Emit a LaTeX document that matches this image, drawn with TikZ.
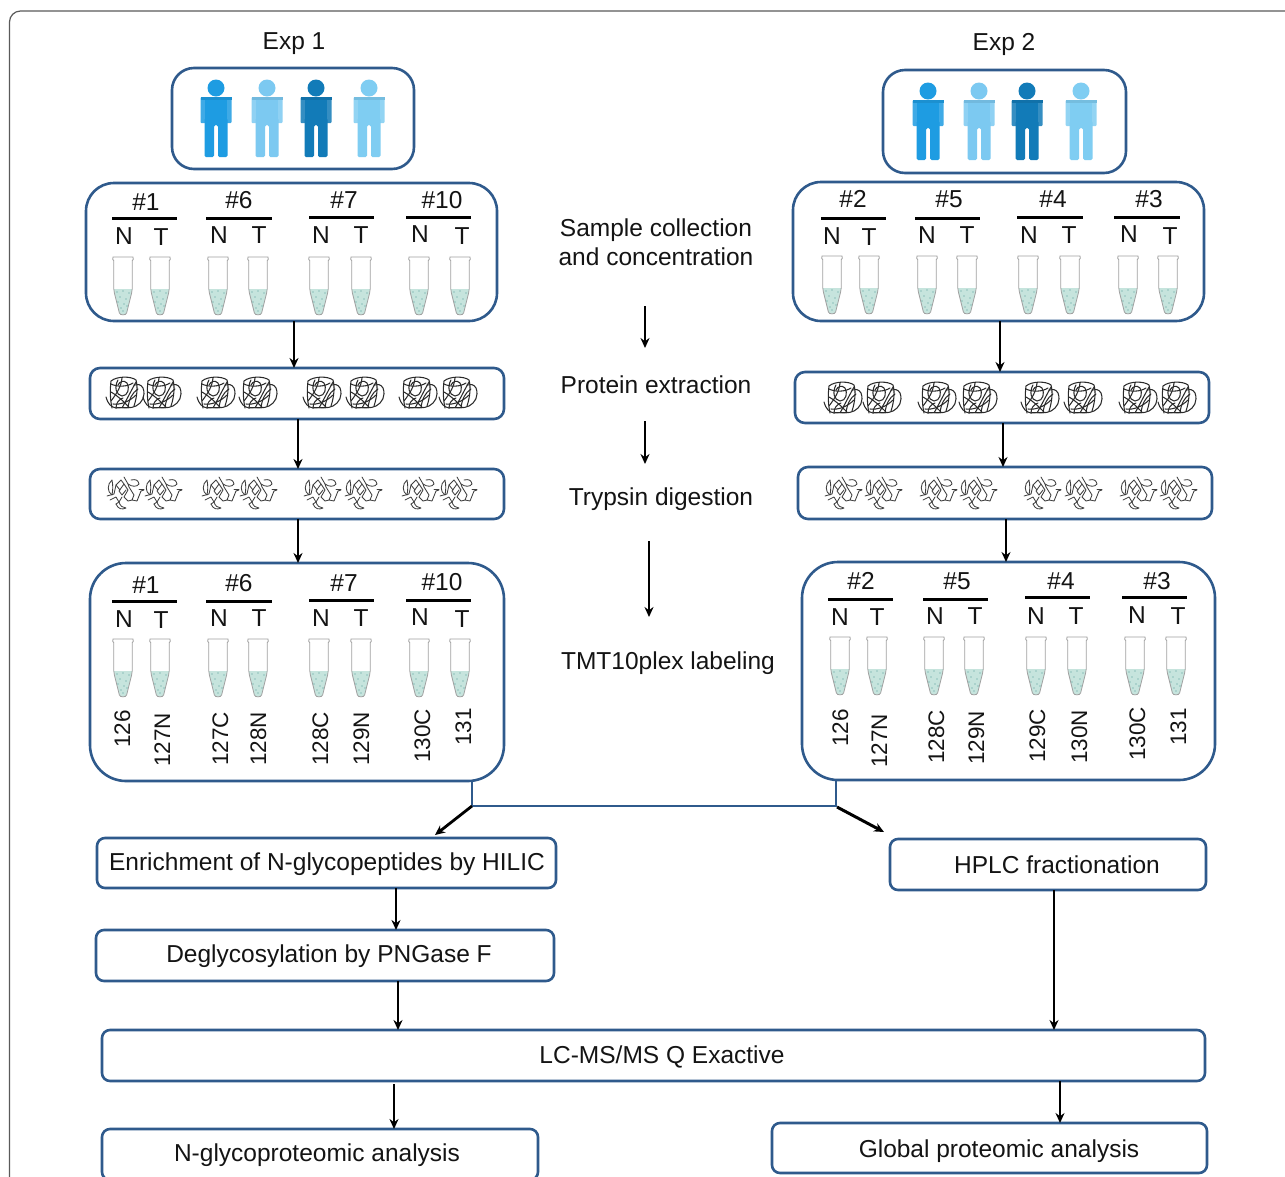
\documentclass[tikz,border=0pt]{standalone}
\usepackage{fontspec}
\setmainfont{Liberation Sans}
\usetikzlibrary{arrows.meta,calc}
\definecolor{boxblue}{HTML}{2F5A8C}
\definecolor{liq}{HTML}{C6E4DD}
\definecolor{liqdot}{HTML}{4F9A96}
\definecolor{tubeline}{HTML}{A0A0A0}
\definecolor{pa}{HTML}{1E9CE2}
\definecolor{pb}{HTML}{7CC9F1}
\definecolor{pc}{HTML}{127BB8}
\definecolor{pd}{HTML}{7FCDF2}
\definecolor{tangleink}{HTML}{2A2A2A}
\definecolor{frameline}{HTML}{5A5A5A}
\tikzset{
  boxshape/.style={draw=boxblue,line width=2.6pt,fill=white,inner sep=0pt,outer sep=0pt},
  arr/.style={-{Stealth[length=10pt,width=9pt]},line width=2.6pt,black},
  conn/.style={draw=boxblue,line width=2.6pt,line join=miter},
  lbl/.style={inner sep=0pt,text height=17.5pt,text depth=0pt,text=black!92},
  numlbl/.style={inner sep=0pt,text height=16pt,text depth=0pt,text=black!92,rotate=90,font=\fontsize{22.5}{22.5}\selectfont},
  bar/.style={line width=3pt,black},
  tg/.style={draw=tangleink,line width=1.05pt,line cap=round},
  tgd/.style={draw=tangleink!90,line width=.85pt,line cap=round,line join=round},
}
\newcommand\mybox[6]{%
  \pgfmathsetmacro\bw{#5-#3}\pgfmathsetmacro\bh{#6-#4}%
  \pgfmathsetmacro\bx{(#5+#3)/2}\pgfmathsetmacro\by{(#6+#4)/2}%
  \node[boxshape,rounded corners=#1pt,minimum width=\bw pt,minimum height=\bh pt] (#2) at (\bx,\by) {};}
\newcommand\txt[5]{\node[lbl,font=\fontsize{#1}{#1}\selectfont] (#2) at (#3,#4) {#5};}
\newcommand\vconn[4][]{\coordinate (vx) at (#4,0);\draw[arr,#1] (#2.south -| vx) -- (#3.north -| vx);}
\newcommand\person[3]{\begin{scope}[shift={(#1,#2)}]
  \fill[#3] (0,0) circle (8.5);
  \fill[#3,opacity=.85,rounded corners=1pt] (-15.5,9) rectangle (15.5,35);
  \fill[#3] (-11,9) rectangle (11,37);
  \fill[#3!92!black] (-15.5,9) rectangle (15.5,12);
  \fill[#3,rounded corners=1.5pt] (-11.5,30) -- (-11.5,69) -- (-2,69) -- (-2,37) -- (2,37) -- (2,69) -- (11.5,69) -- (11.5,30) -- cycle;
\end{scope}}
\newcommand\tube[2]{\begin{scope}[shift={(#1,#2)}]
  \fill[liq] (-9,32) -- (-8.6,36) -- (-3.6,56) .. controls (-3,58.5) and (3,58.5) .. (3.6,56) -- (8.6,36) -- (9,32) -- cycle;
  \draw[tubeline,line width=.8pt] (-10,0) -- (10,0) -- (10.3,2.5) -- (9.2,3.5) -- (9.2,32) -- (8.6,36) -- (3.6,56) .. controls (3,58.5) and (-3,58.5) .. (-3.6,56) -- (-8.6,36) -- (-9.2,32) -- (-9.2,3.5) -- (-10.3,2.5) -- cycle;
  \foreach \px/\py in {-6/35,0/34,6/36,-3/40,3/42,-5/45,1/47,4/49,-2/51,0/54}
    \fill[liqdot] (\px,\py) circle (.6);
\end{scope}}
\newcommand\tangle[2]{\begin{scope}[shift={(#1,#2)}]
  % tail and outer square loop
  \draw[tg] (-19,4) .. controls (-17,11) and (-14,14) .. (-9,15) .. controls (-3,14) and (6,16) .. (11,13) .. controls (17,10) and (21,3) .. (18,-5) .. controls (16,-9) and (12,-9) .. (9,-8);
  \draw[tg] (-13,15) .. controls (-15,6) and (-15,-4) .. (-14,-12) .. controls (-8,-17) and (6,-17) .. (11,-13) .. controls (13,-6) and (12,4) .. (9,13);
  % inner loops
  \draw[tg] (-14,-9) .. controls (-8,-6) and (2,-6) .. (8,-10);
  \draw[tg] (-7,-13) .. controls (-11,-6) and (-9,2) .. (-3,3) .. controls (3,3) and (5,-5) .. (2,-10) .. controls (-1,-13) and (-5,-12) .. (-7,-8);
  % diagonals
  \draw[tg] (11,-11) .. controls (6,-2) and (2,6) .. (-3,15);
  \draw[tg] (13,-4) .. controls (7,0) and (4,6) .. (3,15);
  \draw[tg] (-14,-1) .. controls (-7,3) and (-2,8) .. (4,14);
  \draw[tg] (-14,8) .. controls (-8,0) and (-4,-6) .. (-3,-15);
  \draw[tg] (-12,11) .. controls (-5,12) and (4,9) .. (11,2);
  \draw[tg] (-9,15) .. controls (-9,10) and (-6,6) .. (-2,5);
  \draw[tg,line width=1.5pt] (-8,14.5) -- (6,14.5);
\end{scope}}
\newcommand\digest[2]{\begin{scope}[shift={(#1,#2)}]
  \draw[tgd] (-13,-13) .. controls (-18,-9) and (-18,-1) .. (-13,2) .. controls (-12,-3) and (-12,-8) .. (-13,-13);
  \draw[tgd] (-18,3) -- (-11,1) -- (-9,-8) -- (-4,-13) -- (-1,-9) -- (-6,-2) -- (-3,2) -- (1,-3);
  \draw[tgd] (-9,-8) -- (-5,-3);
  \draw[tgd] (-1,-16) -- (3,-9) -- (4,-6) -- (9,2) -- (7,7) -- (12,8) -- (16,-2) -- (19,-3);
  \draw[tgd] (3,-9) .. controls (7,-6) and (12,-6) .. (14,-9) .. controls (13,-13) and (11,-14) .. (6,-13);
  \draw[tgd] (-1,-9) -- (3,-3) -- (-1,4) -- (3,8) -- (7,7);
  \draw[tgd] (14,-4) -- (19,-4);
  \draw[tgd] (-15,7) -- (-9,4) -- (-6,9) -- (-9,11);
  \draw[tgd] (-9,11) .. controls (-7,16) and (-3,17) .. (1,15) .. controls (-2,15) and (-5,13) .. (-6,9);
  \draw[tgd] (-6,9) -- (-3,4);
\end{scope}}
\begin{document}
\begin{tikzpicture}[x=1pt,y=-1pt]
\useasboundingbox (0,0) rectangle (1285,1176);
\fill[white] (0,0) rectangle (1285,1176);
\clip (0,0) rectangle (1285,1176);
\draw[frameline,line width=1.2pt,rounded corners=11pt] (9.5,1190) -- (9.5,11) -- (1300,11);

% titles
\txt{24.5}{exp1}{294}{41}{Exp 1}
\txt{24.5}{exp2}{1004}{42}{Exp 2}

% Exp 1 boxes
\mybox{22}{pp1}{172}{68}{414}{169}
\mybox{28}{sm1}{86}{183}{497}{321}
\mybox{10}{pr1}{90}{368}{504}{419}
\mybox{10}{tr1}{90}{469}{504}{519}
\mybox{36}{tm1}{90}{563}{504}{781}
% Exp 2 boxes
\mybox{22}{pp2}{883}{70}{1126}{173}
\mybox{28}{sm2}{793}{182}{1204}{321}
\mybox{10}{pr2}{795}{372}{1209}{423}
\mybox{10}{tr2}{798}{467}{1212}{519}
\mybox{36}{tm2}{802}{562}{1215}{780}
% process boxes
\mybox{8}{enr}{97}{838}{556}{888}
\mybox{8}{deg}{96}{930}{554}{981}
\mybox{8}{lcm}{102}{1030}{1205}{1081}
\mybox{8}{ngl}{102}{1129}{538}{1180}
\mybox{8}{hpl}{890}{839}{1206}{890}
\mybox{8}{glb}{772}{1123}{1207}{1173}

% people
\person{216}{88}{pa}\person{267}{88}{pb}\person{316}{88}{pc}\person{369}{88}{pd}
\person{928}{91}{pa}\person{979}{91}{pb}\person{1027}{91}{pc}\person{1081}{91}{pd}

% sample groups, Exp 1
\foreach \n/\x/\y [count=\i] in {\#1/146/202,\#6/239/200,\#7/344/200,\#10/442/200}
  {\txt{24.5}{sa\i}{\x}{\y}{\n}}
\foreach \a/\b/\y in {112/177/218,206/272/218,309/374/217,406/471/217} \draw[bar] (\a,\y) -- (\b,\y);
\foreach \n/\x/\y [count=\i] in {N/124/236,T/161/237,N/219/235,T/259/235,N/321/235,T/361/235,N/420/234,T/462/236}
  {\txt{24.5}{sb\i}{\x}{\y}{\n}}
\foreach \x in {123,160,218,258,319,361,419,460} \tube{\x}{257};

% sample groups, Exp 2
\foreach \n/\x/\y [count=\i] in {\#2/853/199,\#5/949/199,\#4/1053/199,\#3/1149/199}
  {\txt{24.5}{sc\i}{\x}{\y}{\n}}
\foreach \a/\b/\y in {821/886/218,915/980/218,1017/1083/217,1114/1180/217} \draw[bar] (\a,\y) -- (\b,\y);
\foreach \n/\x/\y [count=\i] in {N/832/236,T/869/237,N/927/235,T/967/235,N/1029/235,T/1069/235,N/1129/234,T/1170/236}
  {\txt{24.5}{sd\i}{\x}{\y}{\n}}
\foreach \x in {832,869,927,967,1028,1070,1128,1168} \tube{\x}{256};

% tangles
\foreach \x in {125,162,216,258,322,365,418,458} \tangle{\x}{393};
\foreach \x in {843,882,937,978,1040,1083,1138,1177} \tangle{\x}{398};
\foreach \x in {125,163,220,258,322,363,420,458} \digest{\x}{493};
\foreach \x in {843,883,938,978,1042,1083,1138,1178} \digest{\x}{493};

% TMT, Exp 1
\foreach \n/\x/\y [count=\i] in {\#1/146/585,\#6/239/583,\#7/344/583,\#10/442/582}
  {\txt{24.5}{ta\i}{\x}{\y}{\n}}
\foreach \a/\b/\y in {112/177/601,206/272/601,309/374/600,406/471/600} \draw[bar] (\a,\y) -- (\b,\y);
\foreach \n/\x/\y [count=\i] in {N/124/619,T/161/620,N/219/618,T/259/618,N/321/618,T/361/618,N/420/617,T/462/619}
  {\txt{24.5}{tb\i}{\x}{\y}{\n}}
\foreach \x in {123,160,218,258,319,361,419,460} \tube{\x}{639};
\foreach \n/\x/\y [count=\i] in {126/122/729,127N/162/740,127C/220/739,128N/258/739,128C/320/739,129N/361/739,130C/422/736,131/463/727}
  {\node[numlbl] (tc\i) at (\x,\y) {\n};}

% TMT, Exp 2
\foreach \n/\x/\y [count=\i] in {\#2/861/581,\#5/957/581,\#4/1061/581,\#3/1157/581}
  {\txt{24.5}{ud\i}{\x}{\y}{\n}}
\foreach \a/\b/\y in {828/893/599,923/988/599,1025/1090/597,1122/1187/597} \draw[bar] (\a,\y) -- (\b,\y);
\foreach \n/\x/\y [count=\i] in {N/840/617,T/877/617,N/935/616,T/975/616,N/1036/616,T/1076/616,N/1137/615,T/1178/616}
  {\txt{24.5}{ue\i}{\x}{\y}{\n}}
\foreach \x in {840,877,934,974,1036,1077,1135,1176} \tube{\x}{637};
\foreach \n/\x/\y [count=\i] in {126/840/728,127N/879/741,128C/936/737,129N/976/738,129C/1037/736,130N/1079/737,130C/1137/734,131/1178/727}
  {\node[numlbl] (uf\i) at (\x,\y) {\n};}

% centre labels
\txt{24.5}{st1}{656}{228}{Sample collection}
\txt{24.5}{st2}{656}{257}{and concentration}
\txt{24.5}{st3}{656}{385}{Protein extraction}
\txt{24.5}{st4}{661}{497}{Trypsin digestion}
\txt{24.5}{st5}{668}{661}{TMT10plex labeling}

% process labels
\txt{24.5}{enl}{327}{862}{Enrichment of N-glycopeptides by HILIC}
\txt{24.5}{del}{329}{954}{Deglycosylation by PNGase F}
\txt{24.5}{lcl}{662}{1055}{LC-MS/MS Q Exactive}
\txt{24.5}{nll}{317}{1153}{N-glycoproteomic analysis}
\txt{24.5}{hpt}{1057}{865}{HPLC fractionation}
\txt{24.5}{gll}{999}{1149}{Global proteomic analysis}

% arrows down the two columns
\vconn{sm1}{pr1}{294}
\vconn{pr1}{tr1}{298}
\vconn{tr1}{tm1}{298}
\vconn{sm2}{pr2}{1000}
\vconn{pr2}{tr2}{1003}
\vconn{tr2}{tm2}{1006}
\vconn{enr}{deg}{396}
\vconn{deg}{lcm}{398}
\vconn[shorten <=3pt]{lcm}{ngl}{394}
\vconn{hpl}{lcm}{1054}
\vconn{lcm}{glb}{1060}

% centre arrows
\coordinate (m1a) at (645,306);\coordinate (m1b) at (645,348);
\coordinate (m2a) at (645,421);\coordinate (m2b) at (645,464);
\coordinate (m3a) at (649,541);\coordinate (m3b) at (649,617);
\draw[arr] (m1a) -- (m1b);
\draw[arr] (m2a) -- (m2b);
\draw[arr] (m3a) -- (m3b);

% split
\coordinate (j1) at (472,806);\coordinate (j2) at (836,806);
\draw[conn] (tm1.south -| j1) -- (j1) -- (j2) -- (tm2.south -| j2);
\coordinate (enin) at (435,835);\coordinate (hpa) at (837,807);\coordinate (hpin) at (884,832);
\draw[arr,line width=2.8pt] (j1) -- (enin);
\draw[arr,line width=3pt] (hpa) -- (hpin);
\end{tikzpicture}
\end{document}
